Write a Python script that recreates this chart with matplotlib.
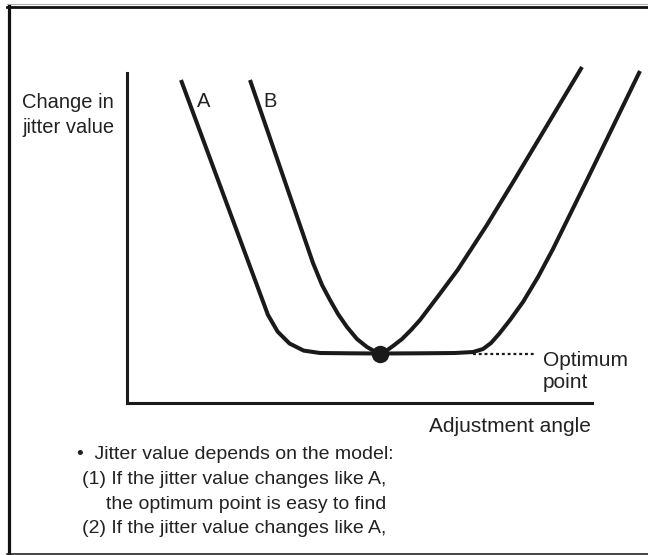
import numpy as np
import matplotlib.pyplot as plt
from matplotlib.lines import Line2D

plt.rcParams['font.family'] = ['Liberation Sans', 'DejaVu Sans']

W, H = 648, 555

# curve A: steep walls with a wide flat bottom
a_x = [11.61, 19.57, 25.94, 30.32, 32.39, 34.95, 37.98, 41.51, 47.96, 54.41,
       63.01, 70.54, 74.41, 76.56, 78.28, 80.00, 82.37, 85.16, 88.39, 91.61,
       98.92, 110.32]
a_y = [97.88, 67.58, 43.33, 26.67, 21.64, 18.03, 15.88, 15.15, 15.06, 15.00,
       15.06, 15.15, 15.45, 16.36, 18.18, 20.91, 25.15, 30.61, 38.18, 46.67,
       67.58, 100.61]

# curve B: narrow V-shaped minimum
b_x = [26.45, 33.85, 40.00, 41.94, 43.66, 45.38, 47.31, 49.46, 51.61, 53.12,
       54.41, 55.70, 57.20, 59.14, 61.08, 63.01, 67.10, 71.10, 77.40, 83.30,
       97.85]
b_y = [97.88, 67.58, 42.42, 35.76, 31.21, 26.97, 23.03, 19.39, 16.97, 15.76,
       15.00, 15.76, 17.27, 19.39, 22.12, 25.15, 32.73, 40.30, 53.94, 67.58,
       101.82]

opt_x, opt_y = 54.41, 15.0
guide_x = [74.4, 87.7]

notes = [
    (77, 459, "\u2022  Jitter value depends on the model:"),
    (82, 484, "(1) If the jitter value changes like A,"),
    (106, 509, "the optimum point is easy to find"),
    (82, 533, "(2) If the jitter value changes like A,"),
]


def fx(px):
    return px / W


def fy(py):
    return 1 - py / H


fig = plt.figure(figsize=(W / 100, H / 100), dpi=100)

# frame around the slide
fig.add_artist(Line2D([fx(7), 1], [fy(3.5), fy(3.5)], color='#b0b0b0', lw=0.8))
fig.add_artist(Line2D([fx(7), 1], [fy(6.5), fy(6.5)], color='#111111', lw=2.0))
fig.add_artist(Line2D([fx(8.5), fx(8.5)], [fy(6), fy(553.5)], color='#111111', lw=2.3))
fig.add_artist(Line2D([fx(7), 1], [fy(553.5), fy(553.5)], color='#222222', lw=1.2))

ax = fig.add_axes([fx(127), fy(403), (592 - 127) / W, (403 - 73) / H])
ax.set_xlim(0, 100)
ax.set_ylim(0, 100)
for side in ['top', 'right']:
    ax.spines[side].set_visible(False)
for side in ['left', 'bottom']:
    ax.spines[side].set_linewidth(2.2)
    ax.spines[side].set_color('#1a1a1a')
ax.set_xticks([])
ax.set_yticks([])
ax.patch.set_alpha(0)

ax.plot(a_x, a_y, color='#1a1a1a', lw=2.9, solid_capstyle='butt',
        solid_joinstyle='round', clip_on=False)
ax.plot(b_x, b_y, color='#1a1a1a', lw=2.9, solid_capstyle='butt',
        solid_joinstyle='round', clip_on=False)
ax.plot(guide_x, [opt_y, opt_y], color='#1a1a1a', lw=1.6,
        linestyle=(0, (1.3, 1.3)), clip_on=False)
ax.plot(opt_x, opt_y, 'o', color='#1a1a1a', markersize=11.5, clip_on=False)

txt = dict(color='#222222', va='baseline')
fig.text(fx(22), fy(108), 'Change in', fontsize=14.5, **txt)
fig.text(fx(22), fy(133), 'jitter value', fontsize=14.5, **txt)
fig.text(fx(197), fy(107), 'A', fontsize=14.5, **txt)
fig.text(fx(263), fy(107), 'B', fontsize=14.5, **txt)
fig.text(fx(543), fy(366), 'Optimum', fontsize=15, **txt)
fig.text(fx(543), fy(388), 'point', fontsize=15, **txt)
fig.text(fx(591), fy(432), 'Adjustment angle', fontsize=15, ha='right', **txt)

for x, y, s in notes:
    fig.text(fx(x), fy(y), s, fontsize=14, **txt)

fig.savefig('out.png', dpi=100)
